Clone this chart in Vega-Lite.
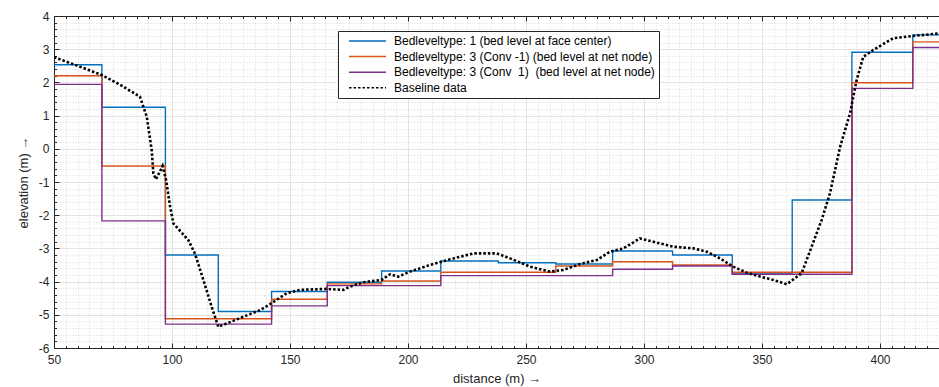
{
  "$schema": "https://vega.github.io/schema/vega-lite/v6.json",
  "width": 885,
  "height": 332,
  "autosize": {"type": "none"},
  "padding": {"left": 54, "top": 16, "right": 0, "bottom": 39},
  "background": "white",
  "config": {
    "view": {"stroke": null},
    "font": "Liberation Sans",
    "legend": {
      "orient": "none",
      "legendX": 284,
      "legendY": 15,
      "title": null,
      "fillColor": "white",
      "strokeColor": "#262626",
      "padding": 4,
      "cornerRadius": 0,
      "symbolType": "stroke",
      "symbolSize": 1369,
      "symbolStrokeWidth": 1.5,
      "symbolOffset": 6,
      "clipHeight": 12,
      "rowPadding": 3.6,
      "labelOffset": 7,
      "labelFontSize": 12,
      "labelColor": "#000000",
      "labelLimit": 400
    }
  },
  "datasets": {
    "steps": [
      {"series": "Bedleveltype: 1 (bed level at face center)", "d": 50, "z": 2.53},
      {"series": "Bedleveltype: 1 (bed level at face center)", "d": 70.3, "z": 1.25},
      {"series": "Bedleveltype: 1 (bed level at face center)", "d": 97.2, "z": -3.2},
      {"series": "Bedleveltype: 1 (bed level at face center)", "d": 119.6, "z": -4.9},
      {"series": "Bedleveltype: 1 (bed level at face center)", "d": 142.2, "z": -4.3},
      {"series": "Bedleveltype: 1 (bed level at face center)", "d": 165.8, "z": -4.02},
      {"series": "Bedleveltype: 1 (bed level at face center)", "d": 188.8, "z": -3.68},
      {"series": "Bedleveltype: 1 (bed level at face center)", "d": 213.9, "z": -3.38},
      {"series": "Bedleveltype: 1 (bed level at face center)", "d": 238.3, "z": -3.43},
      {"series": "Bedleveltype: 1 (bed level at face center)", "d": 262.6, "z": -3.47},
      {"series": "Bedleveltype: 1 (bed level at face center)", "d": 286.7, "z": -3.08},
      {"series": "Bedleveltype: 1 (bed level at face center)", "d": 312.1, "z": -3.2},
      {"series": "Bedleveltype: 1 (bed level at face center)", "d": 337.4, "z": -3.77},
      {"series": "Bedleveltype: 1 (bed level at face center)", "d": 362.8, "z": -1.54},
      {"series": "Bedleveltype: 1 (bed level at face center)", "d": 388.1, "z": 2.91},
      {"series": "Bedleveltype: 1 (bed level at face center)", "d": 413.9, "z": 3.43},
      {"series": "Bedleveltype: 1 (bed level at face center)", "d": 426, "z": 3.43},
      {"series": "Bedleveltype: 3 (Conv -1) (bed level at net node)", "d": 50, "z": 2.2},
      {"series": "Bedleveltype: 3 (Conv -1) (bed level at net node)", "d": 70.3, "z": -0.52},
      {"series": "Bedleveltype: 3 (Conv -1) (bed level at net node)", "d": 97.2, "z": -5.12},
      {"series": "Bedleveltype: 3 (Conv -1) (bed level at net node)", "d": 142.2, "z": -4.53},
      {"series": "Bedleveltype: 3 (Conv -1) (bed level at net node)", "d": 165.8, "z": -4.07},
      {"series": "Bedleveltype: 3 (Conv -1) (bed level at net node)", "d": 188.8, "z": -3.98},
      {"series": "Bedleveltype: 3 (Conv -1) (bed level at net node)", "d": 213.9, "z": -3.72},
      {"series": "Bedleveltype: 3 (Conv -1) (bed level at net node)", "d": 262.6, "z": -3.53},
      {"series": "Bedleveltype: 3 (Conv -1) (bed level at net node)", "d": 286.7, "z": -3.4},
      {"series": "Bedleveltype: 3 (Conv -1) (bed level at net node)", "d": 312.1, "z": -3.5},
      {"series": "Bedleveltype: 3 (Conv -1) (bed level at net node)", "d": 337.4, "z": -3.72},
      {"series": "Bedleveltype: 3 (Conv -1) (bed level at net node)", "d": 388.1, "z": 1.99},
      {"series": "Bedleveltype: 3 (Conv -1) (bed level at net node)", "d": 413.9, "z": 3.22},
      {"series": "Bedleveltype: 3 (Conv -1) (bed level at net node)", "d": 426, "z": 3.22},
      {"series": "Bedleveltype: 3 (Conv\u00a0 1)\u00a0 (bed level at net node)", "d": 50, "z": 1.94},
      {"series": "Bedleveltype: 3 (Conv\u00a0 1)\u00a0 (bed level at net node)", "d": 70.3, "z": -2.17},
      {"series": "Bedleveltype: 3 (Conv\u00a0 1)\u00a0 (bed level at net node)", "d": 97.2, "z": -5.28},
      {"series": "Bedleveltype: 3 (Conv\u00a0 1)\u00a0 (bed level at net node)", "d": 142.2, "z": -4.73},
      {"series": "Bedleveltype: 3 (Conv\u00a0 1)\u00a0 (bed level at net node)", "d": 165.8, "z": -4.12},
      {"series": "Bedleveltype: 3 (Conv\u00a0 1)\u00a0 (bed level at net node)", "d": 213.9, "z": -3.82},
      {"series": "Bedleveltype: 3 (Conv\u00a0 1)\u00a0 (bed level at net node)", "d": 286.7, "z": -3.63},
      {"series": "Bedleveltype: 3 (Conv\u00a0 1)\u00a0 (bed level at net node)", "d": 312.1, "z": -3.53},
      {"series": "Bedleveltype: 3 (Conv\u00a0 1)\u00a0 (bed level at net node)", "d": 337.4, "z": -3.78},
      {"series": "Bedleveltype: 3 (Conv\u00a0 1)\u00a0 (bed level at net node)", "d": 388.1, "z": 1.82},
      {"series": "Bedleveltype: 3 (Conv\u00a0 1)\u00a0 (bed level at net node)", "d": 413.9, "z": 3.05},
      {"series": "Bedleveltype: 3 (Conv\u00a0 1)\u00a0 (bed level at net node)", "d": 426, "z": 3.05}
    ],
    "base": [
      {"series": "Baseline data", "d": 50, "z": 2.76},
      {"series": "Baseline data", "d": 60, "z": 2.5},
      {"series": "Baseline data", "d": 70.3, "z": 2.22},
      {"series": "Baseline data", "d": 78, "z": 1.93},
      {"series": "Baseline data", "d": 86.4, "z": 1.57},
      {"series": "Baseline data", "d": 89.3, "z": 0.97},
      {"series": "Baseline data", "d": 91.4, "z": -0.04},
      {"series": "Baseline data", "d": 92.1, "z": -0.74},
      {"series": "Baseline data", "d": 93.2, "z": -0.92},
      {"series": "Baseline data", "d": 96.0, "z": -0.52},
      {"series": "Baseline data", "d": 97.5, "z": -0.94},
      {"series": "Baseline data", "d": 99.2, "z": -1.74},
      {"series": "Baseline data", "d": 100.6, "z": -2.25},
      {"series": "Baseline data", "d": 106.9, "z": -2.75},
      {"series": "Baseline data", "d": 109.7, "z": -3.15},
      {"series": "Baseline data", "d": 113.3, "z": -3.95},
      {"series": "Baseline data", "d": 116.8, "z": -4.76},
      {"series": "Baseline data", "d": 119.6, "z": -5.36},
      {"series": "Baseline data", "d": 123.2, "z": -5.26},
      {"series": "Baseline data", "d": 128.8, "z": -5.1},
      {"series": "Baseline data", "d": 137.3, "z": -4.86},
      {"series": "Baseline data", "d": 142.2, "z": -4.65},
      {"series": "Baseline data", "d": 148.6, "z": -4.35},
      {"series": "Baseline data", "d": 154.2, "z": -4.25},
      {"series": "Baseline data", "d": 165.5, "z": -4.22},
      {"series": "Baseline data", "d": 172.6, "z": -4.25},
      {"series": "Baseline data", "d": 175.4, "z": -4.15},
      {"series": "Baseline data", "d": 181.1, "z": -4.02},
      {"series": "Baseline data", "d": 188.8, "z": -3.95},
      {"series": "Baseline data", "d": 192.4, "z": -3.78},
      {"series": "Baseline data", "d": 195.9, "z": -3.85},
      {"series": "Baseline data", "d": 200.8, "z": -3.7},
      {"series": "Baseline data", "d": 209.3, "z": -3.5},
      {"series": "Baseline data", "d": 217.8, "z": -3.33},
      {"series": "Baseline data", "d": 227.7, "z": -3.15},
      {"series": "Baseline data", "d": 237.6, "z": -3.15},
      {"series": "Baseline data", "d": 243.2, "z": -3.3},
      {"series": "Baseline data", "d": 251.7, "z": -3.55},
      {"series": "Baseline data", "d": 260.2, "z": -3.7},
      {"series": "Baseline data", "d": 265.8, "z": -3.65},
      {"series": "Baseline data", "d": 272.9, "z": -3.47},
      {"series": "Baseline data", "d": 280, "z": -3.35},
      {"series": "Baseline data", "d": 285.6, "z": -3.1},
      {"series": "Baseline data", "d": 291.2, "z": -3.0},
      {"series": "Baseline data", "d": 298.3, "z": -2.7},
      {"series": "Baseline data", "d": 304, "z": -2.8},
      {"series": "Baseline data", "d": 312.4, "z": -2.95},
      {"series": "Baseline data", "d": 320.9, "z": -3.0},
      {"series": "Baseline data", "d": 326.6, "z": -3.1},
      {"series": "Baseline data", "d": 332.2, "z": -3.3},
      {"series": "Baseline data", "d": 337.8, "z": -3.55},
      {"series": "Baseline data", "d": 343.5, "z": -3.73},
      {"series": "Baseline data", "d": 349.2, "z": -3.85},
      {"series": "Baseline data", "d": 354.8, "z": -3.95},
      {"series": "Baseline data", "d": 360.5, "z": -4.08},
      {"series": "Baseline data", "d": 366.8, "z": -3.75},
      {"series": "Baseline data", "d": 375.3, "z": -2.14},
      {"series": "Baseline data", "d": 378.8, "z": -1.34},
      {"series": "Baseline data", "d": 383.1, "z": 0.06},
      {"series": "Baseline data", "d": 387.3, "z": 1.07},
      {"series": "Baseline data", "d": 390.1, "z": 2.07},
      {"series": "Baseline data", "d": 392.9, "z": 2.77},
      {"series": "Baseline data", "d": 397.2, "z": 2.98},
      {"series": "Baseline data", "d": 405.6, "z": 3.33},
      {"series": "Baseline data", "d": 414.1, "z": 3.4},
      {"series": "Baseline data", "d": 426, "z": 3.48}
    ]
  },
  "resolve": {"axis": {"x": "independent", "y": "independent"}},
  "layer": [
    {
      "data": {"name": "steps"},
      "mark": {"type": "line", "interpolate": "step-after", "strokeWidth": 1.4, "clip": true},
      "encoding": {
        "x": {
          "field": "d", "type": "quantitative",
          "scale": {"domain": [50, 425], "nice": false, "zero": false},
          "axis": {
            "orient": "bottom",
            "values": [50,55,60,65,70,75,80,85,90,95,100,105,110,115,120,125,130,135,140,145,150,155,160,165,170,175,180,185,190,195,200,205,210,215,220,225,230,235,240,245,250,255,260,265,270,275,280,285,290,295,300,305,310,315,320,325,330,335,340,345,350,355,360,365,370,375,380,385,390,395,400,405,410,415,420,425],
            "grid": true,
            "gridColor": {"condition": {"test": "datum.value % 50 === 0", "value": "#dcdcdc"}, "value": "#cfcfcf"},
            "gridDash": {"condition": {"test": "datum.value % 50 === 0", "value": []}, "value": [1, 2]},
            "gridWidth": 0.8,
            "tickSize": {"condition": {"test": "datum.value % 50 === 0", "value": -5}, "value": -2.5},
            "tickColor": "#262626",
            "labelExpr": "datum.value % 50 === 0 ? '' + datum.value : ''",
            "labelOverlap": false,
            "labelFlush": false,
            "labelFontSize": 12,
            "labelColor": "#262626",
            "labelPadding": 11,
            "domainColor": "#262626",
            "title": "distance (m) →",
            "titleFontSize": 13,
            "titleFontWeight": "normal",
            "titleColor": "#262626",
            "titlePadding": 5
          }
        },
        "y": {
          "field": "z", "type": "quantitative",
          "scale": {"domain": [-6, 4], "nice": false, "zero": false},
          "axis": {
            "orient": "left",
            "values": [-6,-5.8,-5.6,-5.4,-5.2,-5,-4.8,-4.6,-4.4,-4.2,-4,-3.8,-3.6,-3.4,-3.2,-3,-2.8,-2.6,-2.4,-2.2,-2,-1.8,-1.6,-1.4,-1.2,-1,-0.8,-0.6,-0.4,-0.2,0,0.2,0.4,0.6,0.8,1,1.2,1.4,1.6,1.8,2,2.2,2.4,2.6,2.8,3,3.2,3.4,3.6,3.8,4],
            "grid": true,
            "gridColor": {"condition": {"test": "abs(datum.value - round(datum.value)) < 0.001", "value": "#dcdcdc"}, "value": "#cfcfcf"},
            "gridDash": {"condition": {"test": "abs(datum.value - round(datum.value)) < 0.001", "value": []}, "value": [1, 2]},
            "gridWidth": 0.8,
            "tickSize": {"condition": {"test": "abs(datum.value - round(datum.value)) < 0.001", "value": -5}, "value": -2.5},
            "tickColor": "#262626",
            "labelExpr": "abs(datum.value - round(datum.value)) < 0.001 ? '' + round(datum.value) : ''",
            "labelOverlap": false,
            "labelFlush": false,
            "labelFontSize": 12,
            "labelColor": "#262626",
            "labelPadding": 10,
            "domainColor": "#262626",
            "title": "elevation (m) →",
            "titleFontSize": 13,
            "titleFontWeight": "normal",
            "titleColor": "#262626",
            "titlePadding": 8
          }
        },
        "color": {
          "field": "series", "type": "nominal",
          "scale": {
            "domain": ["Bedleveltype: 1 (bed level at face center)", "Bedleveltype: 3 (Conv -1) (bed level at net node)", "Bedleveltype: 3 (Conv\u00a0 1)\u00a0 (bed level at net node)", "Baseline data"],
            "range": ["#0072BD", "#D95319", "#7E2F8E", "#000000"]
          }
        },
        "strokeDash": {
          "field": "series", "type": "nominal",
          "scale": {
            "domain": ["Bedleveltype: 1 (bed level at face center)", "Bedleveltype: 3 (Conv -1) (bed level at net node)", "Bedleveltype: 3 (Conv\u00a0 1)\u00a0 (bed level at net node)", "Baseline data"],
            "range": [[1, 0], [1, 0], [1, 0], [2.5, 2]]
          }
        }
      }
    },
    {
      "data": {"name": "base"},
      "mark": {"type": "line", "strokeWidth": 2.6, "clip": true},
      "encoding": {
        "x": {
          "field": "d", "type": "quantitative",
          "axis": {
            "orient": "top",
            "values": [50,55,60,65,70,75,80,85,90,95,100,105,110,115,120,125,130,135,140,145,150,155,160,165,170,175,180,185,190,195,200,205,210,215,220,225,230,235,240,245,250,255,260,265,270,275,280,285,290,295,300,305,310,315,320,325,330,335,340,345,350,355,360,365,370,375,380,385,390,395,400,405,410,415,420,425],
            "grid": false,
            "labels": false,
            "tickSize": {"condition": {"test": "datum.value % 50 === 0", "value": -5}, "value": -2.5},
            "tickColor": "#262626",
            "domainColor": "#262626",
            "title": null
          }
        },
        "y": {"field": "z", "type": "quantitative", "axis": null},
        "color": {"field": "series", "type": "nominal"},
        "strokeDash": {"field": "series", "type": "nominal"}
      }
    }
  ]
}
